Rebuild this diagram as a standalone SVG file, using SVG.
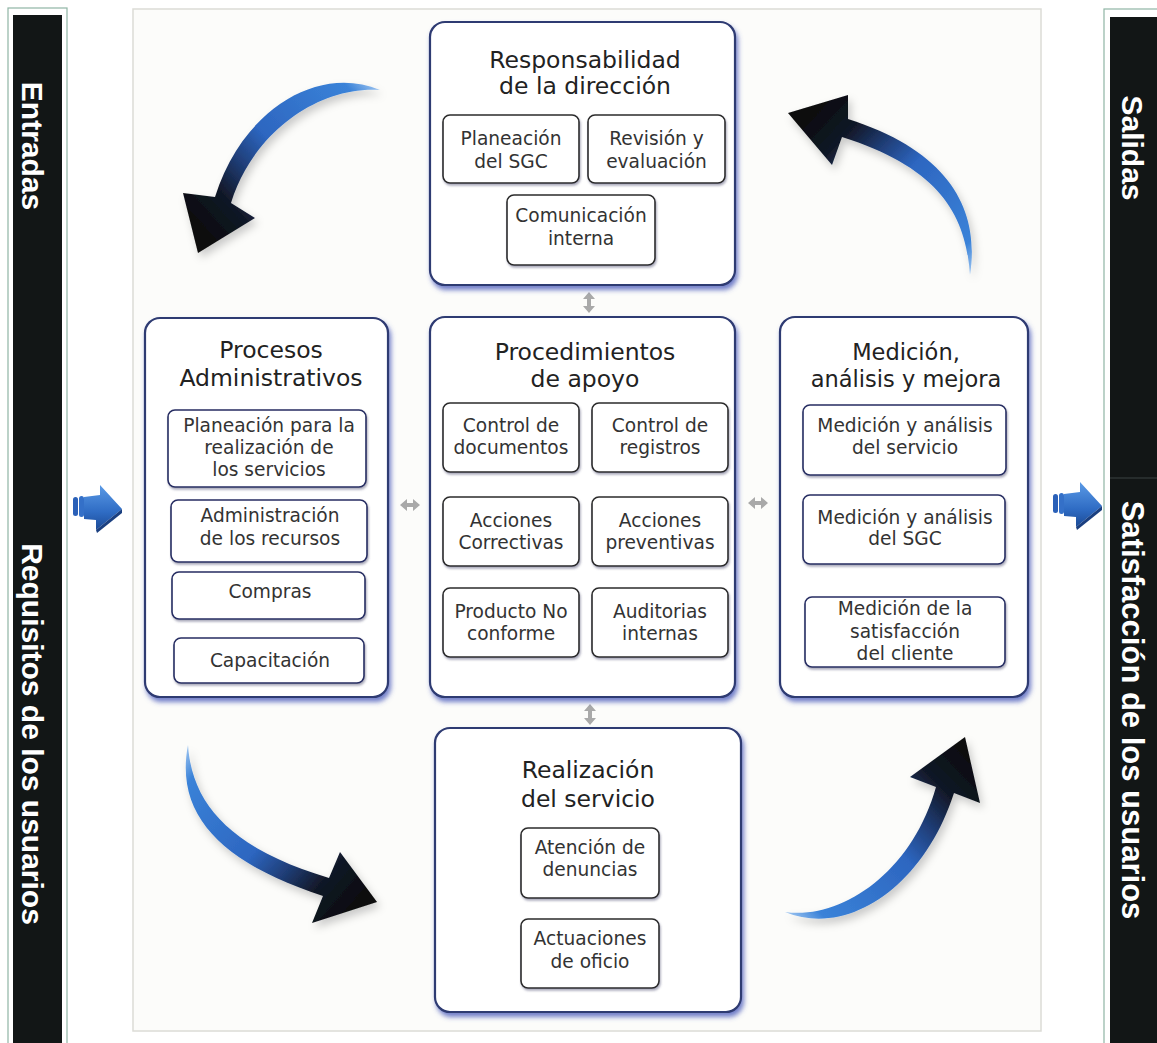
<svg xmlns="http://www.w3.org/2000/svg" width="1157" height="1043" viewBox="0 0 1157 1043">
<style>
.bar{fill:#121616}
.frame{fill:#ffffff;stroke:#8fb5a5;stroke-width:1.2}
.bartxt{font-family:"Liberation Sans",Arial,sans-serif;font-weight:bold;font-size:30px;fill:#ffffff;text-anchor:middle}
.main{fill:#ffffff;stroke:#2f3b72;stroke-width:2.2}
.sub{fill:#ffffff;stroke:#2b2b2b;stroke-width:1.6}
.subb{fill:#ffffff;stroke:#262d62;stroke-width:1.6}
.title{font-family:"DejaVu Sans",Verdana,sans-serif;font-size:23.5px;fill:#222222;text-anchor:middle}
.st{font-family:"DejaVu Sans",Verdana,sans-serif;font-size:18.6px;fill:#333333;text-anchor:middle}
.dbl{fill:#a9a9a9}
</style>
<defs>
<filter id="bshadow" x="-10%" y="-10%" width="125%" height="125%">
<feGaussianBlur in="SourceAlpha" stdDeviation="2.5"/>
<feOffset dx="2" dy="4" result="o"/>
<feFlood flood-color="#4254b8" flood-opacity="0.75"/>
<feComposite in2="o" operator="in"/>
<feMerge><feMergeNode/><feMergeNode in="SourceGraphic"/></feMerge>
</filter>
<filter id="sshadow" x="-10%" y="-10%" width="125%" height="130%">
<feGaussianBlur in="SourceAlpha" stdDeviation="1.2"/>
<feOffset dx="1" dy="2" result="o"/>
<feFlood flood-color="#555577" flood-opacity="0.5"/>
<feComposite in2="o" operator="in"/>
<feMerge><feMergeNode/><feMergeNode in="SourceGraphic"/></feMerge>
</filter>
<filter id="ashadow" x="-20%" y="-20%" width="150%" height="150%">
<feGaussianBlur in="SourceAlpha" stdDeviation="4"/>
<feOffset dx="3" dy="5" result="o"/>
<feFlood flood-color="#000000" flood-opacity="0.2"/>
<feComposite in2="o" operator="in"/>
<feMerge><feMergeNode/><feMergeNode in="SourceGraphic"/></feMerge>
</filter>
<linearGradient id="gTL" gradientUnits="userSpaceOnUse" x1="380" y1="88" x2="205" y2="245">
<stop offset="0" stop-color="#9cc4f0"/><stop offset="0.1" stop-color="#3a82d8"/><stop offset="0.5" stop-color="#2d66c0"/><stop offset="0.66" stop-color="#1f3c74"/><stop offset="0.8" stop-color="#111827"/><stop offset="1" stop-color="#0a0a0a"/>
</linearGradient>
<linearGradient id="gTR" gradientUnits="userSpaceOnUse" x1="970" y1="275" x2="800" y2="115">
<stop offset="0" stop-color="#9cc4f0"/><stop offset="0.1" stop-color="#3a82d8"/><stop offset="0.5" stop-color="#2d66c0"/><stop offset="0.66" stop-color="#1f3c74"/><stop offset="0.8" stop-color="#111827"/><stop offset="1" stop-color="#0a0a0a"/>
</linearGradient>
<linearGradient id="gBL" gradientUnits="userSpaceOnUse" x1="188" y1="745" x2="370" y2="900">
<stop offset="0" stop-color="#9cc4f0"/><stop offset="0.1" stop-color="#3a82d8"/><stop offset="0.5" stop-color="#2d66c0"/><stop offset="0.66" stop-color="#1f3c74"/><stop offset="0.8" stop-color="#111827"/><stop offset="1" stop-color="#0a0a0a"/>
</linearGradient>
<linearGradient id="gBR" gradientUnits="userSpaceOnUse" x1="785" y1="912" x2="965" y2="740">
<stop offset="0" stop-color="#9cc4f0"/><stop offset="0.1" stop-color="#3a82d8"/><stop offset="0.5" stop-color="#2d66c0"/><stop offset="0.66" stop-color="#1f3c74"/><stop offset="0.8" stop-color="#111827"/><stop offset="1" stop-color="#0a0a0a"/>
</linearGradient>
<linearGradient id="gBlock" x1="0" y1="0" x2="0" y2="1">
<stop offset="0" stop-color="#5a9ae6"/><stop offset="0.6" stop-color="#2f6cc4"/><stop offset="1" stop-color="#1b4a96"/>
</linearGradient>
<g id="blockArrow">
<rect x="0" y="12" width="5" height="19" rx="2.5" fill="#2a60b8"/>
<rect x="6" y="11" width="5" height="21" rx="2.5" fill="#3470c8"/>
<path d="M11,12 L27,10 L27,0 L49,24 L23,45 L23,35 L11,34 Z" fill="url(#gBlock)"/>
<path d="M23,45 L49,24 L49,28 L24,48 Z" fill="#1a3f80"/>
</g>
</defs>
<rect width="1157" height="1043" fill="#ffffff"/>
<g id="panel">
<rect x="133" y="9" width="908" height="1022" fill="#fcfcfa" stroke="#dcdcd6" stroke-width="1.5"/>
</g>
<g id="bar-left">
<rect class="frame" x="8" y="8" width="59" height="1045"/>
<rect class="bar" x="13" y="15" width="49" height="1040"/>
<text class="bartxt" transform="translate(21.5,146) rotate(90)" x="0" y="0">Entradas</text>
<text class="bartxt" transform="translate(21.5,734) rotate(90)" x="0" y="0">Requisitos de los usuarios</text>
</g>
<g id="bar-right">
<rect class="frame" x="1104" y="9" width="60" height="1045"/>
<rect class="bar" x="1110" y="17" width="50" height="1040"/>
<line x1="1110" y1="478" x2="1157" y2="478" stroke="#3a4242" stroke-width="1.2"/>
<text class="bartxt" transform="translate(1122,148) rotate(90)" x="0" y="0">Salidas</text>
<text class="bartxt" style="font-size:31px" transform="translate(1122,710) rotate(90)" x="0" y="0">Satisfacción de los usuarios</text>
</g>
<g id="connectors">
<path filter="url(#ashadow)" fill="url(#gTL)" d="M380,90 C318,64 242,110 215,197 L183,193 L198,253 L255,218 L231,203 C252,135 316,86 380,90 Z"/>
<path filter="url(#ashadow)" fill="url(#gTR)" d="M970,275 C980,212 952,152 848,119 L848,95 L788,113 L832,165 L842,137 C940,168 966,215 970,275 Z"/>
<path filter="url(#ashadow)" fill="url(#gBL)" d="M188,745 C174,818 226,864 323,896 L312,923 L377,902 L340,852 L329,878 C236,850 192,808 188,745 Z"/>
<path filter="url(#ashadow)" fill="url(#gBR)" d="M785,912 C848,938 924,886 954,793 L980,803 L965,737 L910,777 L936,787 C912,872 842,920 785,912 Z"/>
<polygon class="dbl" points="589,292 595,299 591,299 591,306 595,306 589,313 583,306 587,306 587,299 583,299"/>
<polygon class="dbl" points="590,704 596,711 592,711 592,718 596,718 590,725 584,718 588,718 588,711 584,711"/>
<polygon class="dbl" points="400,505 407,499 407,503 413,503 413,499 420,505 413,511 413,507 407,507 407,511"/>
<polygon class="dbl" points="748,503 755,497 755,501 761,501 761,497 768,503 761,509 761,505 755,505 755,509"/>
<use href="#blockArrow" x="73" y="485"/>
<use href="#blockArrow" x="1053" y="482"/>
</g>
<g id="node-direccion">
<rect class="main" filter="url(#bshadow)" x="430" y="22" width="305" height="263" rx="15"/>
<text class="title" x="585" y="68">Responsabilidad</text>
<text class="title" x="585" y="94">de la dirección</text>
<rect class="sub" filter="url(#sshadow)" x="443" y="115" width="136" height="68" rx="7"/>
<text class="st" x="511" y="145">Planeación</text>
<text class="st" x="511" y="168">del SGC</text>
<rect class="sub" filter="url(#sshadow)" x="588" y="115" width="137" height="68" rx="7"/>
<text class="st" x="656.5" y="145">Revisión y</text>
<text class="st" x="656.5" y="168">evaluación</text>
<rect class="sub" filter="url(#sshadow)" x="507" y="195" width="148" height="70" rx="7"/>
<text class="st" x="581" y="222">Comunicación</text>
<text class="st" x="581" y="245">interna</text>
</g>
<g id="node-procesos">
<rect class="main" filter="url(#bshadow)" x="145" y="318" width="243" height="379" rx="15"/>
<text class="title" x="271" y="358">Procesos</text>
<text class="title" x="271" y="386">Administrativos</text>
<rect class="subb" filter="url(#sshadow)" x="168" y="410" width="198" height="77" rx="7"/>
<text class="st" x="269" y="432">Planeación para la</text>
<text class="st" x="269" y="454">realización de</text>
<text class="st" x="269" y="476">los servicios</text>
<rect class="subb" filter="url(#sshadow)" x="171" y="500" width="196" height="62" rx="7"/>
<text class="st" x="270" y="522">Administración</text>
<text class="st" x="270" y="545">de los recursos</text>
<rect class="subb" filter="url(#sshadow)" x="172" y="572" width="193" height="47" rx="7"/>
<text class="st" x="270" y="598">Compras</text>
<rect class="subb" filter="url(#sshadow)" x="174" y="638" width="190" height="45" rx="7"/>
<text class="st" x="270" y="667">Capacitación</text>
</g>
<g id="node-apoyo">
<rect class="main" filter="url(#bshadow)" x="430" y="317" width="305" height="380" rx="15"/>
<text class="title" x="585" y="360">Procedimientos</text>
<text class="title" x="585" y="387">de apoyo</text>
<rect class="sub" filter="url(#sshadow)" x="443" y="403" width="136" height="69" rx="7"/>
<text class="st" x="511" y="431.5">Control de</text>
<text class="st" x="511" y="453.5">documentos</text>
<rect class="sub" filter="url(#sshadow)" x="592" y="403" width="136" height="69" rx="7"/>
<text class="st" x="660" y="431.5">Control de</text>
<text class="st" x="660" y="453.5">registros</text>
<rect class="sub" filter="url(#sshadow)" x="443" y="497" width="136" height="69" rx="7"/>
<text class="st" x="511" y="526.5">Acciones</text>
<text class="st" x="511" y="548.5">Correctivas</text>
<rect class="sub" filter="url(#sshadow)" x="592" y="497" width="136" height="69" rx="7"/>
<text class="st" x="660" y="526.5">Acciones</text>
<text class="st" x="660" y="548.5">preventivas</text>
<rect class="sub" filter="url(#sshadow)" x="443" y="588" width="136" height="69" rx="7"/>
<text class="st" x="511" y="618">Producto No</text>
<text class="st" x="511" y="640">conforme</text>
<rect class="sub" filter="url(#sshadow)" x="592" y="588" width="136" height="69" rx="7"/>
<text class="st" x="660" y="618">Auditorias</text>
<text class="st" x="660" y="640">internas</text>
</g>
<g id="node-medicion">
<rect class="main" filter="url(#bshadow)" x="780" y="317" width="248" height="380" rx="15"/>
<text class="title" style="font-size:22.5px" x="906" y="360">Medición,</text>
<text class="title" style="font-size:22.5px" x="906" y="386.5">análisis y mejora</text>
<rect class="subb" filter="url(#sshadow)" x="803" y="405" width="203" height="70" rx="7"/>
<text class="st" x="905" y="431.5">Medición y análisis</text>
<text class="st" x="905" y="453.5">del servicio</text>
<rect class="subb" filter="url(#sshadow)" x="803" y="495" width="202" height="69" rx="7"/>
<text class="st" x="905" y="523.5">Medición y análisis</text>
<text class="st" x="905" y="545">del SGC</text>
<rect class="subb" filter="url(#sshadow)" x="805" y="597" width="200" height="70" rx="7"/>
<text class="st" x="905" y="615">Medición de la</text>
<text class="st" x="905" y="637.5">satisfacción</text>
<text class="st" x="905" y="660">del cliente</text>
</g>
<g id="node-realizacion">
<rect class="main" filter="url(#bshadow)" x="435" y="728" width="306" height="284" rx="15"/>
<text class="title" x="588" y="778">Realización</text>
<text class="title" x="588" y="806.5">del servicio</text>
<rect class="sub" filter="url(#sshadow)" x="521" y="828" width="138" height="70" rx="7"/>
<text class="st" x="590" y="854">Atención de</text>
<text class="st" x="590" y="876">denuncias</text>
<rect class="sub" filter="url(#sshadow)" x="521" y="919" width="138" height="69" rx="7"/>
<text class="st" x="590" y="945">Actuaciones</text>
<text class="st" x="590" y="968">de oficio</text>
</g>
</svg>
